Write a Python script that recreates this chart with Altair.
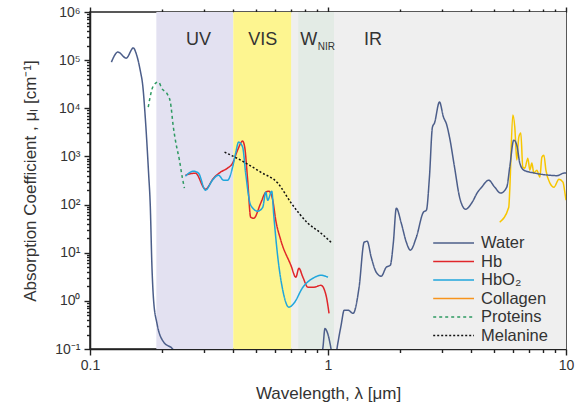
import altair as alt
import pandas as pd

# ---------------- data ----------------
water_wl = [0.123, 0.131, 0.142, 0.152, 0.157, 0.1625, 0.1668, 0.1706, 0.1763, 0.1791, 0.1821, 0.185,
            0.1912, 0.2038, 0.2225, 0.26, 0.35, 0.5, 0.7, 0.85, 0.95, 0.971, 0.997, 1.03, 1.06, 1.09,
            1.135, 1.17, 1.214, 1.275, 1.351, 1.419, 1.461, 1.519, 1.595, 1.674, 1.757, 1.827, 1.881,
            1.937, 2.032, 2.134, 2.218, 2.351, 2.517, 2.591, 2.668, 2.747, 2.801, 2.94, 3.056, 3.147,
            3.24, 3.401, 3.571, 3.785, 4.012, 4.253, 4.422, 4.732, 5.016, 5.317, 5.637, 5.803, 6.034,
            6.212, 6.396, 6.65, 7.4, 8.48, 9.17, 9.81, 10.0]
water_mu = [9.1e4, 1.47e5, 1.1e5, 1.79e5, 1.28e5, 6.2e4, 2.8e4, 6.7e3, 443, 100, 5.07, 1.03,
            0.337, 0.14, 0.1, 0.02, 0.003, 0.0003, 0.01, 0.03, 0.1, 0.265, 0.21, 0.1, 0.04, 0.1,
            0.31, 0.64, 0.64, 0.55, 1.92, 16.5, 17.3, 8.06, 3.93, 3.25, 5.0, 5.5, 15.8,
            84, 41, 16.5, 11.3, 21, 69.5, 76.5, 371, 4070, 4920, 1.35e4, 6560, 4690,
            2520, 600, 143, 80, 107, 181, 230, 321, 230, 173, 230, 600, 2180,
            1718, 726, 519, 450, 408, 399, 450, 450]

hb_wl = [0.2517, 0.2773, 0.3055, 0.3304, 0.3536, 0.3785, 0.3974, 0.417, 0.4378, 0.4467, 0.4597, 0.4732,
         0.4873, 0.5215, 0.5476, 0.5637, 0.586, 0.6034, 0.6334, 0.6983, 0.7328, 0.7545, 0.7844, 0.8235,
         0.873, 0.9344, 0.9809, 1.01]
hb_mu = [408, 450, 209, 354, 472, 571, 726, 1352, 2080, 1560, 321, 54.7,
         52, 107, 181, 190, 123, 47, 18.2, 5.5, 3.1, 4.76, 3.1, 1.92,
         1.92, 2.11, 1.31, 0.55]

hbo2_wl = [0.2517, 0.2721, 0.2856, 0.3055, 0.3272, 0.3467, 0.3641, 0.3785, 0.3974, 0.4092, 0.4213, 0.4378,
           0.4508, 0.4732, 0.5066, 0.5319, 0.5476, 0.5581, 0.5803, 0.5917, 0.6152, 0.6457, 0.6847, 0.7189,
           0.7844, 0.8646, 0.9344, 1.0]
hbo2_mu = [389, 494, 450, 199, 321, 408, 321, 321, 600, 1171, 1983, 1560,
           450, 97, 73, 88, 181, 123, 190, 60, 8.1, 1.66, 0.74, 0.89,
           1.92, 2.95, 3.4, 3.1]

collagen_wl = [5.266, 5.748, 5.803, 5.976, 6.093, 6.212, 6.334, 6.458, 6.585, 6.714, 6.913, 7.049, 7.186,
               7.328, 7.544, 7.767, 7.919, 8.074, 8.233, 8.56, 8.9, 9.34, 9.71, 9.9, 10.0]
collagen_mu = [43, 88, 199, 7220, 4070, 838, 2520, 3050, 600, 571, 922, 519, 726,
               450, 519, 371, 966, 1060, 519, 279, 230, 337, 292, 173, 123]

proteins_wl = [0.1757, 0.1844, 0.1936, 0.2013, 0.2113, 0.2176, 0.224, 0.2284, 0.2375, 0.2445, 0.2493]
proteins_mu = [1.06e4, 2.9e4, 3.5e4, 2.5e4, 1.97e4, 1.35e4, 4060, 2180, 838, 354, 219]

melanine_wl = [0.3676, 0.4295, 0.5215, 0.6152, 0.6983, 0.8235, 0.9344, 1.03]
melanine_mu = [1228, 838, 472, 279, 110, 41, 25.4, 16.5]

series_names = ["Water", "Hb", "HbO₂", "Collagen", "Proteins", "Melanine"]

band_names = ["IR", "UV", "VIS", "WNIR"]
band_start = [0.7, 0.19, 0.4, 0.75]
band_end = [10.0, 0.4, 0.7, 1.06]

label_text = ["UV", "VIS", "W", "IR"]
label_wl = [0.2856, 0.532, 0.831, 1.544]
sub_text = ["NIR"]
sub_wl = [0.905]

x_major = [0.1, 1.0, 10.0]
x_minor = [float(f"{m}e{d}") for d in (-1, 0) for m in range(2, 10)]
y_major = [float(f"1e{d}") for d in range(-1, 7)]
y_minor = [float(f"{m}e{d}") for d in range(-1, 6) for m in range(2, 10)]
y_sup = ["⁻¹", "⁰", "¹", "²", "³", "⁴", "⁵", "⁶"]

# ---------------- styles ----------------
series_colors = ["#4c5e8a", "#e0262a", "#1fa6dc", "#f7941d", "#2e9a62", "#111111"]
series_dash = [[1, 0], [1, 0], [1, 0], [1, 0], [3, 3], [2, 2]]
band_colors = {"IR": "#efefef", "UV": "#e3e1f1", "VIS": "#fdf590", "WNIR": "#e3ebe5"}
collagen_line_color = "#f7c600"
FONT = "Liberation Sans"
TXT = "#333333"
AX = "#222222"
TICK = "#222222"

# ---------------- tables ----------------
rows = []
for name, wl, mu in [("Water", water_wl, water_mu), ("Hb", hb_wl, hb_mu), ("HbO₂", hbo2_wl, hbo2_mu),
                     ("Proteins", proteins_wl, proteins_mu), ("Melanine", melanine_wl, melanine_mu)]:
    assert len(wl) == len(mu), name
    for i, (a, b) in enumerate(zip(wl, mu)):
        rows.append({"wl": a, "mu": b, "series": name, "idx": i})
df_main = pd.DataFrame(rows)
assert len(collagen_wl) == len(collagen_mu)
df_col = pd.DataFrame({"wl": collagen_wl, "mu": collagen_mu, "idx": range(len(collagen_wl))})
df_bands = pd.DataFrame({"band": band_names, "start": band_start, "end": band_end,
                         "fill": [band_colors[b] for b in band_names],
                         "top": [1e6] * len(band_names), "bottom": [0.1] * len(band_names)})
df_labels = pd.DataFrame({"label": label_text, "wl": label_wl, "mu": [2.62e5] * len(label_text)})
df_sub = pd.DataFrame({"label": sub_text, "wl": sub_wl, "mu": [1.85e5] * len(sub_text)})

xscale = alt.Scale(type="log", domain=[0.1, 10], nice=False)
yscale = alt.Scale(type="log", domain=[0.1, 1e6], nice=False)

sup_list = "[" + ",".join(f"'{s}'" for s in y_sup) + "]"

common = dict(ticks=True, tickColor=TICK, tickWidth=1.4, tickOpacity=1, grid=False)

x_bottom_major = alt.Axis(orient="bottom", values=x_major, format="~g", labelFlush=False,
                          tickSize=6, title="Wavelength, λ [μm]", titlePadding=13, labelPadding=3,
                          labelFontSize=14, titleFontSize=17, **common)
x_bottom_minor = alt.Axis(orient="bottom", values=x_minor, labels=False, title=None, domain=False,
                          tickSize=3.5, **common)
x_top_minor = alt.Axis(orient="top", values=x_minor, labels=False, title=None, domain=False,
                       tickSize=3, **common)
x_top_major = alt.Axis(orient="top", values=x_major, labels=False, title=None, domain=False,
                       tickSize=5, **common)
y_major_axis = alt.Axis(orient="left", values=y_major,
                        labelExpr=f"'10' + {sup_list}[round(log(datum.value)/LN10)+1]",
                        tickSize=6, title="Absorption Coefficient , μₗ [cm⁻¹]", titlePadding=15,
                        labelPadding=4, labelFontSize=14, titleFontSize=17, labelFlush=False, **common)
y_minor_axis = alt.Axis(orient="left", values=y_minor, labels=False, title=None, domain=False,
                        tickSize=3.5, **common)

leg = alt.Legend(title=None, orient="none", legendX=367, legendY=222,
                 symbolType="M-4.1,0H1", symbolSize=256, symbolStrokeWidth=1.6,
                 labelFontSize=16.5, labelFont=FONT, labelColor=TXT, labelOffset=6,
                 rowPadding=0.5, padding=0)

bands = alt.Chart(df_bands).mark_rect().encode(
    x=alt.X("start:Q", scale=xscale, axis=x_top_minor),
    x2="end:Q",
    y=alt.Y("top:Q", scale=yscale, axis=None),
    y2="bottom:Q",
    color=alt.Color("fill:N", scale=None),
)

labels = alt.Chart(df_labels).mark_text(fontSize=18, font=FONT, color=TXT, baseline="middle").encode(
    x=alt.X("wl:Q", scale=xscale, axis=x_bottom_minor),
    y=alt.Y("mu:Q", scale=yscale, axis=None),
    text="label:N",
)
sub = alt.Chart(df_sub).mark_text(fontSize=10, font=FONT, color=TXT, baseline="middle", align="left").encode(
    x=alt.X("wl:Q", scale=xscale, axis=x_top_major),
    y=alt.Y("mu:Q", scale=yscale, axis=None),
    text="label:N",
)

lines = alt.Chart(df_main).mark_line(clip=True, interpolate="monotone", strokeWidth=1.5).encode(
    x=alt.X("wl:Q", scale=xscale, axis=x_bottom_major),
    y=alt.Y("mu:Q", scale=yscale, axis=y_major_axis),
    color=alt.Color("series:N", scale=alt.Scale(domain=series_names, range=series_colors), legend=leg),
    strokeDash=alt.StrokeDash("series:N", scale=alt.Scale(domain=series_names, range=series_dash), legend=leg),
    order="idx:Q",
)

collagen = alt.Chart(df_col).mark_line(clip=True, interpolate="monotone", strokeWidth=1.5,
                                       color=collagen_line_color).encode(
    x=alt.X("wl:Q", scale=xscale, axis=None),
    y=alt.Y("mu:Q", scale=yscale, axis=y_minor_axis),
    order="idx:Q",
)

chart = alt.layer(bands, labels, sub, collagen, lines).resolve_axis(
    x="independent", y="independent"
).properties(
    width=476, height=337,
    padding={"left": 90, "top": 12, "right": 15, "bottom": 59},
    autosize=alt.AutoSizeParams(type="none"),
).configure(font=FONT).configure_view(
    stroke=AX, strokeWidth=1.5
).configure_axis(
    domainColor=AX, domainWidth=1.5,
    labelColor=TXT, titleColor=TXT, labelFont=FONT, titleFont=FONT, titleFontWeight="normal"
)

chart.save("out.html", embed_options={"renderer": "svg", "actions": False})
